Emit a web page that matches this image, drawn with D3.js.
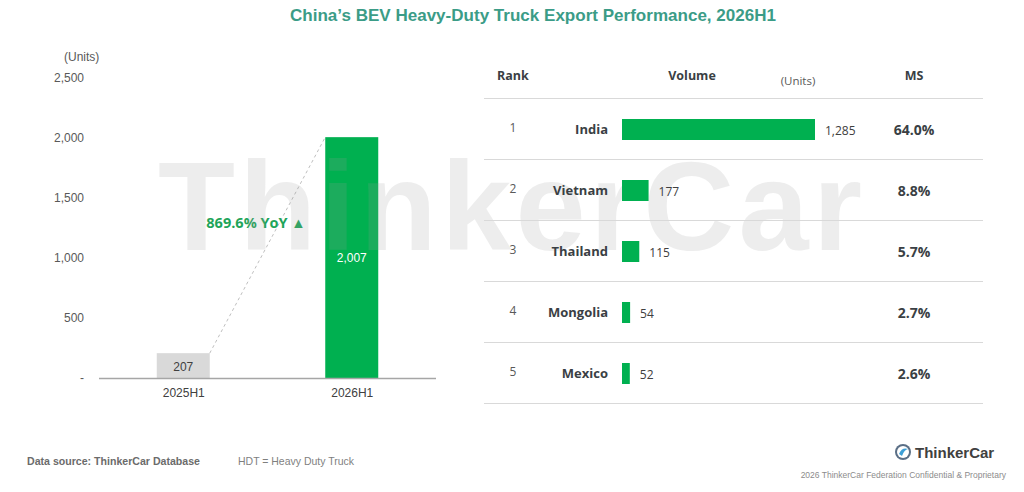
<!DOCTYPE html>
<html>
<head>
<meta charset="utf-8">
<script src="https://cdn.jsdelivr.net/npm/d3@7"></script>
<style>
  html, body { margin: 0; padding: 0; background: #ffffff; }
  svg { display: block; }
</style>
</head>
<body>
<svg id="chart" width="1024" height="492"></svg>
<script>
// ---------- data ----------
const periods = ["2025H1", "2026H1"];
const periodValues = [207, 2007];
const yTicks = [0, 500, 1000, 1500, 2000, 2500];
const yoyLabel = "869.6% YoY ▲";

const ranks = [1, 2, 3, 4, 5];
const countries = ["India", "Vietnam", "Thailand", "Mongolia", "Mexico"];
const volumes = [1285, 177, 115, 54, 52];
const shares = ["64.0%", "8.8%", "5.7%", "2.7%", "2.6%"];

const titleText = "China\u2019s BEV Heavy-Duty Truck Export Performance, 2026H1";

// ---------- setup ----------
const svg = d3.select("#chart");
const ARIAL = "'Liberation Sans', Arial, sans-serif";
const SEGOE = "'Open Sans', 'Noto Sans', sans-serif";
const GREEN = "#00b050";

// title
svg.append("text")
  .attr("x", 290).attr("y", 21)
  .attr("font-family", ARIAL).attr("font-weight", "bold").attr("font-size", 16.5)
  .attr("textLength", 486).attr("lengthAdjust", "spacingAndGlyphs")
  .attr("fill", "#3b9c87")
  .text(titleText);

// ---------- left bar chart ----------
const x = d3.scalePoint().domain(periods).range([99, 436]).padding(0.5);
const y = d3.scaleLinear().domain([0, 2500]).range([378, 78]);
const barW = 53;
const barColors = ["#d9d9d9", GREEN];

const left = svg.append("g");

// y axis (labels only)
const yAxis = d3.axisLeft(y).tickValues(yTicks).tickSize(0).tickPadding(0)
  .tickFormat(d => d === 0 ? "-" : d3.format(",")(d));
const yg = left.append("g").attr("transform", "translate(84,0)").call(yAxis);
yg.select(".domain").remove();
yg.selectAll("text")
  .attr("font-family", ARIAL).attr("font-size", 12).attr("fill", "#595959");

left.append("text")
  .attr("x", 64).attr("y", 61)
  .attr("font-family", ARIAL).attr("font-size", 12).attr("fill", "#595959")
  .text("(Units)");

// bars
left.selectAll("rect.bar").data(periods).join("rect")
  .attr("class", "bar")
  .attr("x", d => x(d) - barW / 2)
  .attr("width", barW)
  .attr("y", (d, i) => y(periodValues[i]))
  .attr("height", (d, i) => y(0) - y(periodValues[i]))
  .attr("fill", (d, i) => barColors[i]);

// watermark
svg.append("text")
  .attr("x", 158).attr("y", 250)
  .attr("font-family", ARIAL).attr("font-weight", "bold").attr("font-size", 126)
  .attr("textLength", 704).attr("lengthAdjust", "spacing")
  .attr("fill", "#9a9a9a").attr("fill-opacity", 0.18)
  .text("ThinkerCar");

// x axis line
const xg = left.append("g").attr("transform", `translate(0,${y(0)})`)
  .call(d3.axisBottom(x).tickSize(0).tickPadding(10));
xg.select(".domain").attr("d", "M99,0.5H436").attr("stroke", "#a6a6a6").attr("stroke-width", 1.5);
xg.selectAll("text")
  .attr("font-family", ARIAL).attr("font-size", 12).attr("fill", "#404040");

// dashed connector
left.append("line")
  .attr("x1", x(periods[0]) + barW / 2).attr("y1", y(periodValues[0]))
  .attr("x2", x(periods[1]) - barW / 2).attr("y2", y(periodValues[1]))
  .attr("stroke", "#bfbfbf").attr("stroke-width", 1).attr("stroke-dasharray", "3,3");

// value labels
left.selectAll("text.val").data(periods).join("text")
  .attr("class", "val")
  .attr("x", d => x(d))
  .attr("y", (d, i) => i === 0 ? y(0) - 7 : y(1000) + 4)
  .attr("text-anchor", "middle")
  .attr("font-family", ARIAL).attr("font-size", 12)
  .attr("fill", (d, i) => i === 0 ? "#404040" : "#ffffff")
  .text((d, i) => d3.format(",")(periodValues[i]));

// YoY label
left.append("text")
  .attr("x", 256).attr("y", 228)
  .attr("text-anchor", "middle")
  .attr("font-family", SEGOE).attr("font-weight", "bold").attr("font-size", 14.5)
  .attr("fill", "#1fa55a")
  .text(yoyLabel);

// ---------- right table ----------
const row = d3.scaleBand().domain(ranks).range([98, 403]);
const vx = d3.scaleLinear().domain([0, d3.max(volumes)]).range([622, 815]);
const tbl = svg.append("g");
const DARK = "#3a3f44";

// header
tbl.append("text").attr("x", 497).attr("y", 80)
  .attr("font-family", SEGOE).attr("font-weight", "bold").attr("font-size", 12.5).attr("fill", DARK)
  .text("Rank");
tbl.append("text").attr("x", 692).attr("y", 80).attr("text-anchor", "middle")
  .attr("font-family", SEGOE).attr("font-weight", "bold").attr("font-size", 12.5).attr("fill", DARK)
  .text("Volume");
tbl.append("text").attr("x", 798).attr("y", 85).attr("text-anchor", "middle")
  .attr("font-family", SEGOE).attr("font-size", 11.5).attr("fill", "#595959")
  .text("(Units)");
tbl.append("text").attr("x", 914).attr("y", 80).attr("text-anchor", "middle")
  .attr("font-family", SEGOE).attr("font-weight", "bold").attr("font-size", 12.5).attr("fill", DARK)
  .text("MS");

// separators
const lineYs = [row(ranks[0])].concat(ranks.map(r => row(r) + row.bandwidth()));
tbl.selectAll("line.sep").data(lineYs).join("line")
  .attr("class", "sep")
  .attr("x1", 484).attr("x2", 983)
  .attr("y1", d => Math.round(d) + 0.5).attr("y2", d => Math.round(d) + 0.5)
  .attr("stroke", "#d9d9d9").attr("stroke-width", 1);

const rows = tbl.selectAll("g.row").data(ranks).join("g")
  .attr("class", "row")
  .attr("transform", r => `translate(0,${row(r) + row.bandwidth() / 2})`);

rows.append("text").attr("x", 513).attr("y", 3).attr("text-anchor", "middle")
  .attr("font-family", SEGOE).attr("font-size", 12).attr("fill", "#595959")
  .text(r => r);

rows.append("text").attr("x", 608).attr("y", 5).attr("text-anchor", "end")
  .attr("font-family", SEGOE).attr("font-weight", "bold").attr("font-size", 13).attr("fill", DARK)
  .text((r, i) => countries[i]);

rows.append("rect")
  .attr("x", vx(0)).attr("y", -9.5)
  .attr("width", (r, i) => vx(volumes[i]) - vx(0))
  .attr("height", 21)
  .attr("fill", GREEN);

rows.append("text")
  .attr("x", (r, i) => vx(volumes[i]) + 10).attr("y", 6)
  .attr("font-family", SEGOE).attr("font-size", 12).attr("fill", "#404040")
  .text((r, i) => d3.format(",")(volumes[i]));

rows.append("text").attr("x", 914).attr("y", 6).attr("text-anchor", "middle")
  .attr("font-family", SEGOE).attr("font-weight", "bold").attr("font-size", 14).attr("fill", DARK)
  .text((r, i) => shares[i]);

// ---------- footer ----------
const NARROW = "'Liberation Sans Narrow', 'Arial Narrow', 'Liberation Sans', sans-serif";
svg.append("text").attr("x", 27).attr("y", 465)
  .attr("font-family", NARROW).attr("font-weight", "bold").attr("font-size", 11).attr("fill", "#6b6b6b")
  .attr("textLength", 173).attr("lengthAdjust", "spacingAndGlyphs")
  .text("Data source: ThinkerCar Database");
svg.append("text").attr("x", 238).attr("y", 465)
  .attr("font-family", NARROW).attr("font-size", 11).attr("fill", "#7f7f7f")
  .attr("textLength", 116).attr("lengthAdjust", "spacingAndGlyphs")
  .text("HDT = Heavy Duty Truck");

// logo
const logo = svg.append("g").attr("transform", "translate(903,452)");
logo.append("circle").attr("r", 8).attr("fill", "#5b6f86");
logo.append("circle").attr("r", 6).attr("fill", "#ffffff");
logo.append("path").attr("d", "M-4,2 Q-1,-5 5,-3 Q1,-2 -1,4 Z").attr("fill", "#3d9fd6");
svg.append("text").attr("x", 915).attr("y", 458)
  .attr("font-family", ARIAL).attr("font-weight", "bold").attr("font-size", 15).attr("fill", "#404040")
  .text("ThinkerCar");
svg.append("text").attr("x", 1006).attr("y", 478).attr("text-anchor", "end")
  .attr("font-family", NARROW).attr("font-size", 8.5).attr("fill", "#8c8c8c")
  .text("2026 ThinkerCar Federation Confidential & Proprietary");
</script>
</body>
</html>
